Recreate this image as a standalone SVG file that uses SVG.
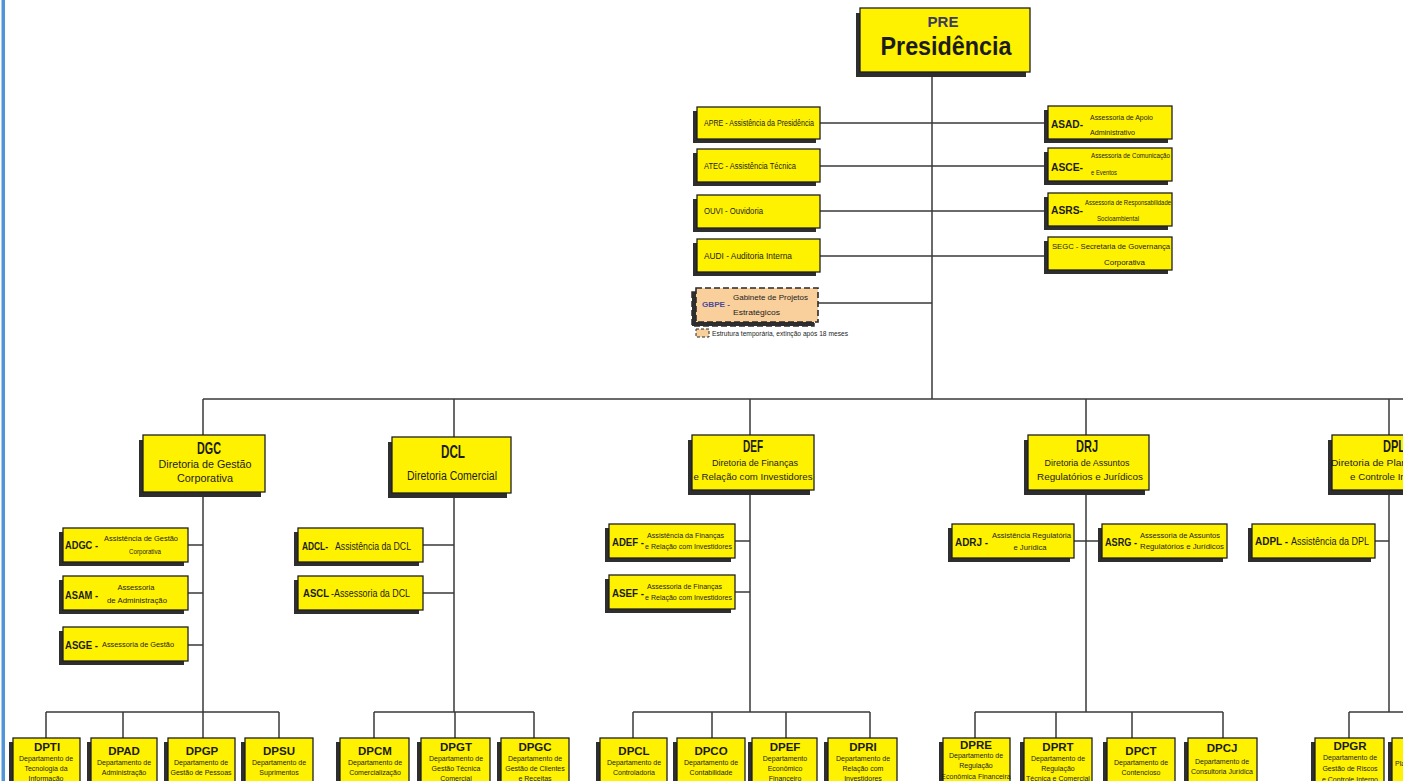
<svg xmlns="http://www.w3.org/2000/svg" width="1403" height="781" viewBox="0 0 1403 781">
<style>
.sh{fill:#2e2e2e}
.bx{fill:#FFF200;stroke:#1f1f1f;stroke-width:1.3}
.tmp{fill:#F9CF9B;stroke:#2a2a2a;stroke-width:1.6;stroke-dasharray:6 3}
.ln{stroke:#3a3a3a;stroke-width:1.5;fill:none}
text{font-family:"Liberation Sans",Arial,sans-serif;fill:#1c1c1c}
.c{text-anchor:middle}
.k{font-size:11.5px;font-weight:bold}
.s{font-size:7px}
.m{font-size:9px}
.h{font-size:17px;font-weight:bold}
.d{font-size:10px}
</style>
<rect width="1403" height="781" fill="#ffffff"/>
<rect x="1.5" y="0" width="3.5" height="781" fill="#4f95d8"/>

<g id="connectors">
<path class="ln" d="M932 72V399M820 123H1048M820 166H1048M820 211H1048M820 256H1048M818 303H932"/>
<path class="ln" d="M203 399H1403M203 399V435M454 399V437M750 399V435M1086 399V435M1389 399V435"/>
<path class="ln" d="M203 492V712M188 545H203M188 593H203M188 645H203M46 712H279M46 712V738M123 712V738M203 712V738M279 712V738"/>
<path class="ln" d="M454 493V712M423 545H454M423 593H454M374 712H534M374 712V738M455 712V738M534 712V738"/>
<path class="ln" d="M750 490V712M735 541H750M735 592H750M633 712H870M633 712V738M712 712V738M786 712V738M870 712V738"/>
<path class="ln" d="M1086 490V712M1074 541H1102M975 712H1223M975 712V738M1056 712V738M1132 712V738M1223 712V738"/>
<path class="ln" d="M1389 490V712M1375 541H1389M1349 712H1403M1349 712V738"/>
</g>

<g id="PRE">
<rect class="sh" x="856" y="13" width="170" height="64"/>
<rect class="bx" x="860" y="8" width="170" height="64"/>
<text class="c" x="943" y="27" font-size="15" font-weight="bold" style="fill:#3b3b5c">PRE</text>
<text class="c" x="946" y="55" font-size="26" font-weight="bold" textLength="131" lengthAdjust="spacingAndGlyphs">Presidência</text>
</g>

<g id="APRE">
<rect class="sh" x="693" y="111" width="123" height="32"/>
<rect class="bx" x="697" y="107" width="123" height="32"/>
<text x="704" y="126" font-size="8.5" textLength="110" lengthAdjust="spacingAndGlyphs">APRE - Assistência da Presidência</text>
</g>
<g id="ATEC">
<rect class="sh" x="693" y="153" width="123" height="33"/>
<rect class="bx" x="697" y="149" width="123" height="33"/>
<text x="704" y="169" font-size="8.5" textLength="92" lengthAdjust="spacingAndGlyphs">ATEC - Assistência Técnica</text>
</g>
<g id="OUVI">
<rect class="sh" x="693" y="199" width="123" height="33"/>
<rect class="bx" x="697" y="195" width="123" height="33"/>
<text x="704" y="214" font-size="8.5" textLength="59" lengthAdjust="spacingAndGlyphs">OUVI - Ouvidoria</text>
</g>
<g id="AUDI">
<rect class="sh" x="693" y="243" width="123" height="33"/>
<rect class="bx" x="697" y="239" width="123" height="33"/>
<text x="704" y="259" font-size="8.5" textLength="88" lengthAdjust="spacingAndGlyphs">AUDI -  Auditoria Interna</text>
</g>
<g id="GBPE">
<rect x="692" y="292" width="122" height="34" fill="#2e2e2e" stroke="#2e2e2e" stroke-width="1.5" stroke-dasharray="6 3"/>
<rect class="tmp" x="696" y="288" width="122" height="34"/>
<text x="702" y="307" font-size="8" font-weight="bold" style="fill:#4b4b9b" textLength="28" lengthAdjust="spacingAndGlyphs">GBPE -</text>
<text x="733" y="300" font-size="8" textLength="75" lengthAdjust="spacingAndGlyphs">Gabinete de Projetos</text>
<text x="733" y="315" font-size="8" textLength="47" lengthAdjust="spacingAndGlyphs">Estratégicos</text>
</g>
<g id="legend">
<rect x="696" y="329" width="13" height="8" fill="#F9CF9B" stroke="#2a2a2a" stroke-width="1" stroke-dasharray="3 2"/>
<text x="712" y="336" font-size="8" textLength="136" lengthAdjust="spacingAndGlyphs">Estrutura temporária, extinção após 18 meses</text>
</g>

<g id="ASAD">
<rect class="sh" x="1044" y="110" width="124" height="33"/>
<rect class="bx" x="1048" y="106" width="124" height="33"/>
<text class="k" x="1051" y="128" textLength="32" lengthAdjust="spacingAndGlyphs">ASAD-</text>
<text x="1090" y="120" font-size="7.5" textLength="63" lengthAdjust="spacingAndGlyphs">Assessoria de Apoio</text>
<text x="1090" y="135" font-size="7.5" textLength="45" lengthAdjust="spacingAndGlyphs">Administrativo</text>
</g>
<g id="ASCE">
<rect class="sh" x="1044" y="152" width="124" height="33"/>
<rect class="bx" x="1048" y="148" width="124" height="33"/>
<text class="k" x="1051" y="171" textLength="32" lengthAdjust="spacingAndGlyphs">ASCE-</text>
<text x="1091" y="158" font-size="7.5" textLength="79" lengthAdjust="spacingAndGlyphs">Assessoria de Comunicação</text>
<text x="1091" y="175" font-size="7.5" textLength="26" lengthAdjust="spacingAndGlyphs">e Eventos</text>
</g>
<g id="ASRS">
<rect class="sh" x="1044" y="197" width="124" height="33"/>
<rect class="bx" x="1048" y="193" width="124" height="33"/>
<text class="k" x="1051" y="214" textLength="32" lengthAdjust="spacingAndGlyphs">ASRS-</text>
<text x="1085" y="205" font-size="7.5" textLength="86" lengthAdjust="spacingAndGlyphs">Assessoria de Responsabilidade</text>
<text x="1097" y="221" font-size="7.5" textLength="42" lengthAdjust="spacingAndGlyphs">Socioambiental</text>
</g>
<g id="SEGC">
<rect class="sh" x="1044" y="241" width="124" height="33"/>
<rect class="bx" x="1048" y="237" width="124" height="33"/>
<text x="1052" y="249" font-size="8" textLength="118" lengthAdjust="spacingAndGlyphs">SEGC - Secretaria de Governança</text>
<text x="1104" y="265" font-size="8" textLength="41" lengthAdjust="spacingAndGlyphs">Corporativa</text>
</g>

<g id="DGC">
<rect class="sh" x="139" y="440" width="122" height="57"/>
<rect class="bx" x="143" y="435" width="122" height="57"/>
<text class="c h" x="209" y="454" textLength="24" lengthAdjust="spacingAndGlyphs">DGC</text>
<text class="c d" x="205" y="468" textLength="93" lengthAdjust="spacingAndGlyphs">Diretoria de Gestão</text>
<text class="c d" x="205" y="482" textLength="56" lengthAdjust="spacingAndGlyphs">Corporativa</text>
</g>
<g id="DCL">
<rect class="sh" x="388" y="442" width="119" height="56"/>
<rect class="bx" x="392" y="437" width="119" height="56"/>
<text class="c" x="453" y="458" font-size="19" font-weight="bold" textLength="24" lengthAdjust="spacingAndGlyphs">DCL</text>
<text class="c" x="452" y="480" font-size="12" textLength="90" lengthAdjust="spacingAndGlyphs">Diretoria Comercial</text>
</g>
<g id="DEF">
<rect class="sh" x="688" y="440" width="122" height="55"/>
<rect class="bx" x="692" y="435" width="122" height="55"/>
<text class="c h" x="753" y="452" textLength="20" lengthAdjust="spacingAndGlyphs">DEF</text>
<text class="c" x="755" y="466" font-size="9.5" textLength="86" lengthAdjust="spacingAndGlyphs">Diretoria de Finanças</text>
<text class="c" x="753" y="480" font-size="9.5" textLength="119" lengthAdjust="spacingAndGlyphs">e Relação com Investidores</text>
</g>
<g id="DRJ">
<rect class="sh" x="1024" y="440" width="121" height="55"/>
<rect class="bx" x="1028" y="435" width="121" height="55"/>
<text class="c h" x="1087" y="452" textLength="22" lengthAdjust="spacingAndGlyphs">DRJ</text>
<text class="c" x="1087" y="466" font-size="9.5" textLength="85" lengthAdjust="spacingAndGlyphs">Diretoria de Assuntos</text>
<text class="c" x="1090" y="480" font-size="9.5" textLength="106" lengthAdjust="spacingAndGlyphs">Regulatórios e Jurídicos</text>
</g>
<g id="DPL">
<rect class="sh" x="1328" y="440" width="122" height="55"/>
<rect class="bx" x="1332" y="435" width="122" height="55"/>
<text class="c h" x="1394" y="452" textLength="22" lengthAdjust="spacingAndGlyphs">DPL</text>
<text class="c" x="1390" y="466" font-size="9.5" textLength="118" lengthAdjust="spacingAndGlyphs">Diretoria de Planejamento</text>
<text class="c" x="1389" y="480" font-size="9.5" textLength="78" lengthAdjust="spacingAndGlyphs">e Controle Interno</text>
</g>

<g id="ADGC">
<rect class="sh" x="59" y="532" width="125" height="34"/>
<rect class="bx" x="63" y="528" width="125" height="34"/>
<text class="k" x="65" y="549" textLength="33" lengthAdjust="spacingAndGlyphs">ADGC -</text>
<text class="c s" x="141" y="541" textLength="74" lengthAdjust="spacingAndGlyphs">Assistência de Gestão</text>
<text class="c s" x="145" y="554" textLength="32" lengthAdjust="spacingAndGlyphs">Corporativa</text>
</g>
<g id="ASAM">
<rect class="sh" x="59" y="580" width="125" height="34"/>
<rect class="bx" x="63" y="576" width="125" height="34"/>
<text class="k" x="65" y="599" textLength="33" lengthAdjust="spacingAndGlyphs">ASAM -</text>
<text class="c s" x="136" y="590" textLength="37" lengthAdjust="spacingAndGlyphs">Assessoria</text>
<text class="c s" x="137" y="603" textLength="60" lengthAdjust="spacingAndGlyphs">de Administração</text>
</g>
<g id="ASGE">
<rect class="sh" x="59" y="631" width="125" height="34"/>
<rect class="bx" x="63" y="627" width="125" height="34"/>
<text class="k" x="65" y="649" textLength="33" lengthAdjust="spacingAndGlyphs">ASGE -</text>
<text class="s" x="102" y="647" textLength="72" lengthAdjust="spacingAndGlyphs">Assessoria de Gestão</text>
</g>
<g id="ADCL">
<rect class="sh" x="294" y="532" width="125" height="34"/>
<rect class="bx" x="298" y="528" width="125" height="34"/>
<text class="k" x="302" y="550" textLength="26" lengthAdjust="spacingAndGlyphs">ADCL-</text>
<text class="d" x="335" y="550" textLength="76" lengthAdjust="spacingAndGlyphs">Assistência da DCL</text>
</g>
<g id="ASCL">
<rect class="sh" x="294" y="580" width="125" height="34"/>
<rect class="bx" x="298" y="576" width="125" height="34"/>
<text class="k" x="303" y="597" textLength="26" lengthAdjust="spacingAndGlyphs">ASCL</text>
<text class="d" x="331" y="597" textLength="79" lengthAdjust="spacingAndGlyphs">-Assessoria da DCL</text>
</g>
<g id="ADEF">
<rect class="sh" x="605" y="528" width="126" height="34"/>
<rect class="bx" x="609" y="524" width="126" height="34"/>
<text class="k" x="612" y="546" textLength="32" lengthAdjust="spacingAndGlyphs">ADEF -</text>
<text x="647" y="538" font-size="6.5" textLength="77" lengthAdjust="spacingAndGlyphs">Assistência da Finanças</text>
<text x="645" y="549" font-size="6.5" textLength="87" lengthAdjust="spacingAndGlyphs">e Relação com Investidores</text>
</g>
<g id="ASEF">
<rect class="sh" x="605" y="579" width="126" height="34"/>
<rect class="bx" x="609" y="575" width="126" height="34"/>
<text class="k" x="612" y="597" textLength="32" lengthAdjust="spacingAndGlyphs">ASEF -</text>
<text x="647" y="589" font-size="6.5" textLength="75" lengthAdjust="spacingAndGlyphs">Assessoria de Finanças</text>
<text x="645" y="600" font-size="6.5" textLength="87" lengthAdjust="spacingAndGlyphs">e Relação com Investidores</text>
</g>
<g id="ADRJ">
<rect class="sh" x="948" y="528" width="122" height="34"/>
<rect class="bx" x="952" y="524" width="122" height="34"/>
<text class="k" x="955" y="546" textLength="33" lengthAdjust="spacingAndGlyphs">ADRJ -</text>
<text x="992" y="538" font-size="6.5" textLength="79" lengthAdjust="spacingAndGlyphs">Assistência Regulatória</text>
<text class="c" x="1030" y="550" font-size="6.5" textLength="33" lengthAdjust="spacingAndGlyphs">e Jurídica</text>
</g>
<g id="ASRG">
<rect class="sh" x="1098" y="528" width="125" height="34"/>
<rect class="bx" x="1102" y="524" width="125" height="34"/>
<text class="k" x="1105" y="546" textLength="32" lengthAdjust="spacingAndGlyphs">ASRG -</text>
<text x="1140" y="538" font-size="6.5" textLength="80" lengthAdjust="spacingAndGlyphs">Assessoria de Assuntos</text>
<text x="1140" y="549" font-size="6.5" textLength="84" lengthAdjust="spacingAndGlyphs">Regulatórios e Jurídicos</text>
</g>
<g id="ADPL">
<rect class="sh" x="1248" y="528" width="123" height="34"/>
<rect class="bx" x="1252" y="524" width="123" height="34"/>
<text class="k" x="1255" y="545" textLength="33" lengthAdjust="spacingAndGlyphs">ADPL -</text>
<text class="d" x="1291" y="545" textLength="78" lengthAdjust="spacingAndGlyphs">Assistência da DPL</text>
</g>

<g id="DPTI">
<rect class="sh" x="9" y="742" width="67" height="60"/><rect class="bx" x="13" y="738" width="67" height="60"/>
<text class="c k" x="47" y="751">DPTI</text>
<text class="c s" x="46" y="761">Departamento de</text>
<text class="c s" x="46" y="771">Tecnologia da</text>
<text class="c s" x="46" y="781">Informação</text>
</g>
<g id="DPAD">
<rect class="sh" x="87" y="742" width="66" height="60"/><rect class="bx" x="91" y="738" width="66" height="60"/>
<text class="c k" x="124" y="755">DPAD</text>
<text class="c s" x="124" y="765">Departamento de</text>
<text class="c s" x="124" y="775">Administração</text>
</g>
<g id="DPGP">
<rect class="sh" x="164" y="742" width="67" height="60"/><rect class="bx" x="168" y="738" width="67" height="60"/>
<text class="c k" x="202" y="755">DPGP</text>
<text class="c s" x="201" y="765">Departamento de</text>
<text class="c s" x="201" y="775">Gestão de Pessoas</text>
</g>
<g id="DPSU">
<rect class="sh" x="241" y="742" width="68" height="60"/><rect class="bx" x="245" y="738" width="68" height="60"/>
<text class="c k" x="279" y="755">DPSU</text>
<text class="c s" x="279" y="765">Departamento de</text>
<text class="c s" x="279" y="775">Suprimentos</text>
</g>
<g id="DPCM">
<rect class="sh" x="336" y="742" width="69" height="60"/><rect class="bx" x="340" y="738" width="69" height="60"/>
<text class="c k" x="375" y="755">DPCM</text>
<text class="c s" x="375" y="765">Departamento de</text>
<text class="c s" x="375" y="775">Comercialização</text>
</g>
<g id="DPGT">
<rect class="sh" x="417" y="742" width="69" height="60"/><rect class="bx" x="421" y="738" width="69" height="60"/>
<text class="c k" x="456" y="751">DPGT</text>
<text class="c s" x="456" y="761">Departamento de</text>
<text class="c s" x="456" y="771">Gestão Técnica</text>
<text class="c s" x="456" y="781">Comercial</text>
</g>
<g id="DPGC">
<rect class="sh" x="497" y="742" width="68" height="60"/><rect class="bx" x="501" y="738" width="68" height="60"/>
<text class="c k" x="535" y="751">DPGC</text>
<text class="c s" x="535" y="761">Departamento de</text>
<text class="c s" x="535" y="771">Gestão de Clientes</text>
<text class="c s" x="535" y="781">e Receitas</text>
</g>
<g id="DPCL">
<rect class="sh" x="596" y="742" width="67" height="60"/><rect class="bx" x="600" y="738" width="67" height="60"/>
<text class="c k" x="634" y="755">DPCL</text>
<text class="c s" x="634" y="765">Departamento de</text>
<text class="c s" x="634" y="775">Controladoria</text>
</g>
<g id="DPCO">
<rect class="sh" x="673" y="742" width="68" height="60"/><rect class="bx" x="677" y="738" width="68" height="60"/>
<text class="c k" x="711" y="755">DPCO</text>
<text class="c s" x="711" y="765">Departamento de</text>
<text class="c s" x="711" y="775">Contabilidade</text>
</g>
<g id="DPEF">
<rect class="sh" x="748" y="742" width="65" height="60"/><rect class="bx" x="752" y="738" width="65" height="60"/>
<text class="c k" x="785" y="751">DPEF</text>
<text class="c s" x="785" y="761">Departamento</text>
<text class="c s" x="785" y="771">Econômico</text>
<text class="c s" x="785" y="781">Financeiro</text>
</g>
<g id="DPRI">
<rect class="sh" x="824" y="742" width="69" height="60"/><rect class="bx" x="828" y="738" width="69" height="60"/>
<text class="c k" x="863" y="751">DPRI</text>
<text class="c s" x="863" y="761">Departamento de</text>
<text class="c s" x="863" y="771">Relação com</text>
<text class="c s" x="863" y="781">Investidores</text>
</g>
<g id="DPRE">
<rect class="sh" x="939" y="742" width="67" height="60"/><rect class="bx" x="943" y="738" width="67" height="60"/>
<text class="c k" x="976" y="749">DPRE</text>
<text class="c s" x="976" y="758">Departamento de</text>
<text class="c s" x="976" y="768">Regulação</text>
<text class="c s" x="976" y="779">Econômica Financeira</text>
</g>
<g id="DPRT">
<rect class="sh" x="1020" y="742" width="68" height="60"/><rect class="bx" x="1024" y="738" width="68" height="60"/>
<text class="c k" x="1058" y="751">DPRT</text>
<text class="c s" x="1058" y="761">Departamento de</text>
<text class="c s" x="1058" y="771">Regulação</text>
<text class="c s" x="1058" y="781">Técnica e Comercial</text>
</g>
<g id="DPCT">
<rect class="sh" x="1103" y="742" width="68" height="60"/><rect class="bx" x="1107" y="738" width="68" height="60"/>
<text class="c k" x="1141" y="755">DPCT</text>
<text class="c s" x="1141" y="765">Departamento de</text>
<text class="c s" x="1141" y="775">Contencioso</text>
</g>
<g id="DPCJ">
<rect class="sh" x="1184" y="742" width="69" height="60"/><rect class="bx" x="1188" y="738" width="69" height="60"/>
<text class="c k" x="1222" y="752">DPCJ</text>
<text class="c s" x="1222" y="764">Departamento de</text>
<text class="c s" x="1222" y="774">Consultoria Jurídica</text>
</g>
<g id="DPGR">
<rect class="sh" x="1311" y="742" width="69" height="60"/><rect class="bx" x="1315" y="738" width="69" height="60"/>
<text class="c k" x="1350" y="750">DPGR</text>
<text class="c s" x="1350" y="760">Departamento de</text>
<text class="c s" x="1350" y="771">Gestão de Riscos</text>
<text class="c s" x="1350" y="782">e Controle Interno</text>
</g>
<g id="DPPL">
<rect class="sh" x="1388" y="742" width="69" height="60"/><rect class="bx" x="1392" y="738" width="69" height="60"/>
<text class="s" x="1395" y="766">Planejamento</text>
</g>
</svg>
